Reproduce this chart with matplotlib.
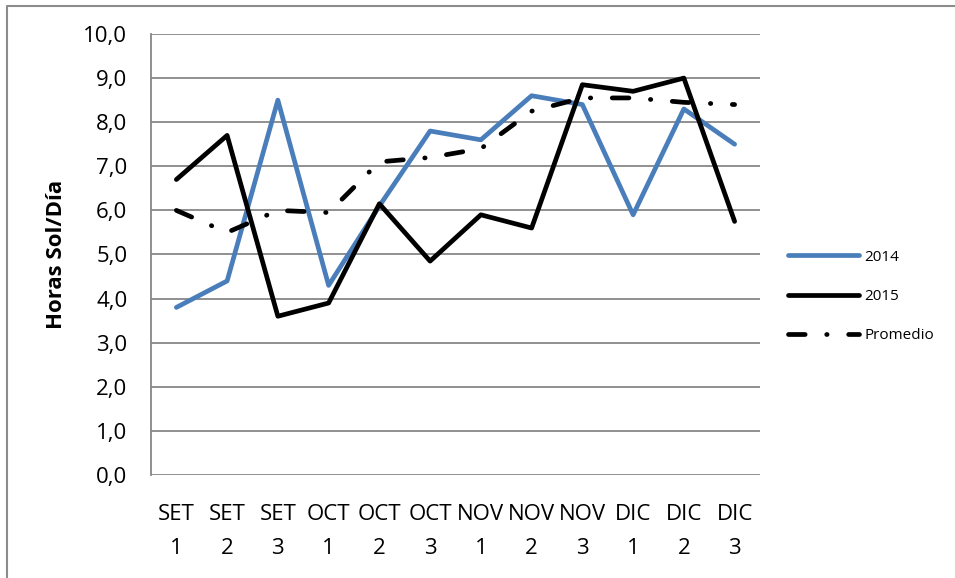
import matplotlib
matplotlib.use("Agg")
import matplotlib.pyplot as plt
from matplotlib.lines import Line2D

# weekly-ish periods (decadas) and sunshine hours per day
categories = ["SET\n1", "SET\n2", "SET\n3", "OCT\n1", "OCT\n2", "OCT\n3",
              "NOV\n1", "NOV\n2", "NOV\n3", "DIC\n1", "DIC\n2", "DIC\n3"]
horas_2014 = [3.8, 4.4, 8.5, 4.3, 6.1, 7.8, 7.6, 8.6, 8.4, 5.9, 8.3, 7.5]
horas_2015 = [6.7, 7.7, 3.6, 3.9, 6.15, 4.85, 5.9, 5.6, 8.85, 8.7, 9.0, 5.75]
promedio = [6.0, 5.5, 6.0, 5.95, 7.1, 7.2, 7.4, 8.25, 8.55, 8.55, 8.45, 8.4]
y_ticks = [0, 1, 2, 3, 4, 5, 6, 7, 8, 9, 10]

plt.rcParams["font.family"] = ["Open Sans", "DejaVu Sans"]
plt.rcParams["lines.scale_dashes"] = False

GRID = "#878787"
BLUE = "#4a7ebb"

fig = plt.figure(figsize=(9.55, 5.78), dpi=100)
ax = fig.add_axes([0.1581, 0.1782, 0.6377, 0.7630])

x = list(range(len(categories)))
lw = 3.4
ax.plot(x, horas_2014, color=BLUE, lw=lw, solid_joinstyle="round",
        solid_capstyle="round", label="2014", zorder=3)
ax.plot(x, horas_2015, color="black", lw=lw, solid_joinstyle="round",
        solid_capstyle="round", label="2015", zorder=4)
ax.plot(x, promedio, color="black", lw=lw, ls=(0, (12, 15.5, 0.3, 15.5)),
        dash_capstyle="round", label="Promedio", zorder=5)

ax.set_xlim(-0.5, len(categories) - 0.5)
ax.set_ylim(0, 10)
ax.set_yticks(y_ticks)
ax.set_yticklabels([f"{v:.1f}".replace(".", ",") for v in y_ticks])
ax.set_xticks(x)
ax.set_xticklabels(categories, linespacing=1.8)
ax.tick_params(axis="both", length=0, labelsize=16, colors="black")
ax.tick_params(axis="y", pad=17)
ax.tick_params(axis="x", pad=21)

ax.grid(axis="y", color=GRID, lw=1.3)
ax.set_axisbelow(True)
for side in ["top", "right", "bottom"]:
    ax.spines[side].set_visible(False)
ax.spines["left"].set_color(GRID)
ax.spines["left"].set_linewidth(1.3)

ax.set_ylabel("Horas Sol/Día", fontsize=16, fontweight="bold", labelpad=12)

leg = fig.legend(loc="center left", bbox_to_anchor=(0.811, 0.487),
                 frameon=False, fontsize=11, handlelength=4.6,
                 handletextpad=0.4, labelspacing=1.6)

# chart-area border (left and top edges visible)
border = Line2D([7 / 955, 7 / 955, 1.0], [0.0, 1 - 6 / 578, 1 - 6 / 578],
                transform=fig.transFigure, color="#8c8c8c", lw=1.5)
fig.add_artist(border)

fig.savefig("out.png", dpi=100)
